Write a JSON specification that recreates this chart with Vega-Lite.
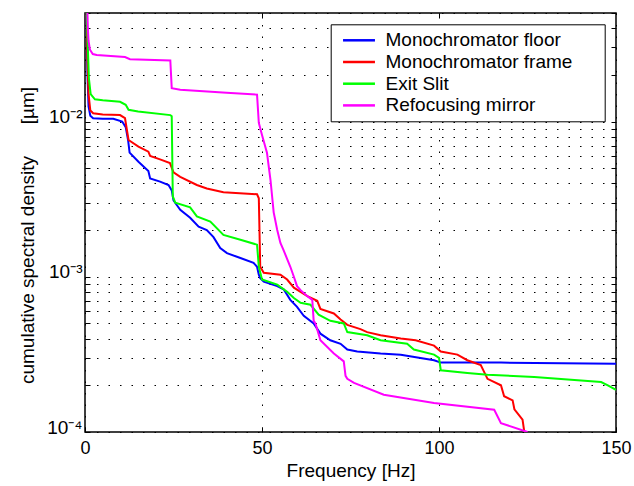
{
 "$schema": "https://vega.github.io/schema/vega-lite/v6.json",
 "width": 531, "height": 419,
 "autosize": {"type": "none"},
 "padding": {"left": 85, "top": 13, "right": 18, "bottom": 54},
 "background": "white",
 "config": {
  "font": "Liberation Sans",
  "view": {"stroke": "black", "strokeWidth": 1.5},
  "axis": {"domain": false, "grid": true, "gridColor": "black", "gridDash": [1.5, 10], "gridWidth": 1, "gridOpacity": 1,
   "tickColor": "black", "tickSize": -5, "tickWidth": 1, "labelColor": "black", "titleColor": "black",
   "labelFlush": false, "labelOverlap": false, "titleFontWeight": "normal", "titleFontSize": 19}
 },
 "data": {"values": [
  {"s":"Monochromator floor","f":0.4,"v":0.06},{"s":"Monochromator floor","f":0.7,"v":0.02},{"s":"Monochromator floor","f":1.0,"v":0.0125},{"s":"Monochromator floor","f":1.5,"v":0.0109},{"s":"Monochromator floor","f":2.3,"v":0.0105},{"s":"Monochromator floor","f":5,"v":0.0104},{"s":"Monochromator floor","f":8,"v":0.0104},{"s":"Monochromator floor","f":10.5,"v":0.0100},{"s":"Monochromator floor","f":11.5,"v":0.0092},{"s":"Monochromator floor","f":12.2,"v":0.0075},{"s":"Monochromator floor","f":12.6,"v":0.0063},{"s":"Monochromator floor","f":15.1,"v":0.0055},{"s":"Monochromator floor","f":17.9,"v":0.0048},{"s":"Monochromator floor","f":18.4,"v":0.0043},{"s":"Monochromator floor","f":21.2,"v":0.0041},{"s":"Monochromator floor","f":23.6,"v":0.0039},{"s":"Monochromator floor","f":24.5,"v":0.0036},{"s":"Monochromator floor","f":25.0,"v":0.0031},{"s":"Monochromator floor","f":26.9,"v":0.0027},{"s":"Monochromator floor","f":29.7,"v":0.0024},{"s":"Monochromator floor","f":32.1,"v":0.0021},{"s":"Monochromator floor","f":34.4,"v":0.0020},{"s":"Monochromator floor","f":36.3,"v":0.0018},{"s":"Monochromator floor","f":38.2,"v":0.00153},{"s":"Monochromator floor","f":40.1,"v":0.00142},{"s":"Monochromator floor","f":43.9,"v":0.00132},{"s":"Monochromator floor","f":47.6,"v":0.00123},{"s":"Monochromator floor","f":48.6,"v":0.00116},{"s":"Monochromator floor","f":49.1,"v":0.00103},{"s":"Monochromator floor","f":49.5,"v":0.00098},{"s":"Monochromator floor","f":50.5,"v":0.00093},{"s":"Monochromator floor","f":54.3,"v":0.00087},{"s":"Monochromator floor","f":56.1,"v":0.00083},{"s":"Monochromator floor","f":58,"v":0.00071},{"s":"Monochromator floor","f":59.9,"v":0.00064},{"s":"Monochromator floor","f":61.8,"v":0.00056},{"s":"Monochromator floor","f":64.6,"v":0.00050},{"s":"Monochromator floor","f":66.5,"v":0.00043},{"s":"Monochromator floor","f":69.3,"v":0.00039},{"s":"Monochromator floor","f":72.2,"v":0.00037},{"s":"Monochromator floor","f":74.1,"v":0.00034},{"s":"Monochromator floor","f":76.9,"v":0.00033},{"s":"Monochromator floor","f":83.5,"v":0.00032},{"s":"Monochromator floor","f":89.2,"v":0.000315},{"s":"Monochromator floor","f":98.6,"v":0.00029},{"s":"Monochromator floor","f":100.5,"v":0.00028},{"s":"Monochromator floor","f":117.5,"v":0.00028},{"s":"Monochromator floor","f":150,"v":0.000275},

  {"s":"Monochromator frame","f":0.4,"v":0.06},{"s":"Monochromator frame","f":0.7,"v":0.025},{"s":"Monochromator frame","f":1.0,"v":0.015},{"s":"Monochromator frame","f":1.5,"v":0.0118},{"s":"Monochromator frame","f":2.3,"v":0.0113},{"s":"Monochromator frame","f":5,"v":0.0111},{"s":"Monochromator frame","f":9.9,"v":0.0110},{"s":"Monochromator frame","f":11.3,"v":0.0105},{"s":"Monochromator frame","f":12.3,"v":0.0076},{"s":"Monochromator frame","f":15.1,"v":0.0069},{"s":"Monochromator frame","f":17.9,"v":0.0064},{"s":"Monochromator frame","f":18.4,"v":0.0060},{"s":"Monochromator frame","f":21.2,"v":0.0057},{"s":"Monochromator frame","f":24,"v":0.0054},{"s":"Monochromator frame","f":25,"v":0.0047},{"s":"Monochromator frame","f":26.9,"v":0.0044},{"s":"Monochromator frame","f":31.6,"v":0.0039},{"s":"Monochromator frame","f":34.4,"v":0.0037},{"s":"Monochromator frame","f":39.1,"v":0.0035},{"s":"Monochromator frame","f":48.6,"v":0.0034},{"s":"Monochromator frame","f":49.1,"v":0.0032},{"s":"Monochromator frame","f":49.5,"v":0.00116},{"s":"Monochromator frame","f":50.5,"v":0.00106},{"s":"Monochromator frame","f":55.2,"v":0.00103},{"s":"Monochromator frame","f":57.1,"v":0.00096},{"s":"Monochromator frame","f":59,"v":0.00085},{"s":"Monochromator frame","f":62.8,"v":0.00075},{"s":"Monochromator frame","f":65.6,"v":0.0007},{"s":"Monochromator frame","f":66.5,"v":0.00062},{"s":"Monochromator frame","f":70.3,"v":0.00058},{"s":"Monochromator frame","f":72.2,"v":0.00053},{"s":"Monochromator frame","f":74.1,"v":0.00049},{"s":"Monochromator frame","f":77.8,"v":0.00046},{"s":"Monochromator frame","f":79.7,"v":0.00044},{"s":"Monochromator frame","f":83.5,"v":0.00042},{"s":"Monochromator frame","f":89.2,"v":0.0004},{"s":"Monochromator frame","f":93.4,"v":0.00039},{"s":"Monochromator frame","f":98.6,"v":0.00036},{"s":"Monochromator frame","f":100.5,"v":0.00033},{"s":"Monochromator frame","f":105.2,"v":0.000315},{"s":"Monochromator frame","f":108,"v":0.00029},{"s":"Monochromator frame","f":111.8,"v":0.00027},{"s":"Monochromator frame","f":113.7,"v":0.00022},{"s":"Monochromator frame","f":117.5,"v":0.0002},{"s":"Monochromator frame","f":118.4,"v":0.00017},{"s":"Monochromator frame","f":120.8,"v":0.00016},{"s":"Monochromator frame","f":121.3,"v":0.00014},{"s":"Monochromator frame","f":123.6,"v":0.00012},{"s":"Monochromator frame","f":124.1,"v":0.0001},

  {"s":"Exit Slit","f":0.4,"v":0.06},{"s":"Exit Slit","f":0.8,"v":0.03},{"s":"Exit Slit","f":1.1,"v":0.019},{"s":"Exit Slit","f":1.6,"v":0.015},{"s":"Exit Slit","f":2.8,"v":0.0139},{"s":"Exit Slit","f":5,"v":0.0137},{"s":"Exit Slit","f":9.9,"v":0.0134},{"s":"Exit Slit","f":11.5,"v":0.0128},{"s":"Exit Slit","f":12.3,"v":0.0119},{"s":"Exit Slit","f":15,"v":0.0116},{"s":"Exit Slit","f":24.1,"v":0.0110},{"s":"Exit Slit","f":24.5,"v":0.0108},{"s":"Exit Slit","f":24.8,"v":0.0033},{"s":"Exit Slit","f":25.5,"v":0.0030},{"s":"Exit Slit","f":29.7,"v":0.0028},{"s":"Exit Slit","f":31.6,"v":0.00245},{"s":"Exit Slit","f":35.4,"v":0.00227},{"s":"Exit Slit","f":39.1,"v":0.00186},{"s":"Exit Slit","f":43.9,"v":0.00173},{"s":"Exit Slit","f":48.6,"v":0.00161},{"s":"Exit Slit","f":49.1,"v":0.00116},{"s":"Exit Slit","f":50,"v":0.00096},{"s":"Exit Slit","f":54.3,"v":0.00089},{"s":"Exit Slit","f":57.1,"v":0.0008},{"s":"Exit Slit","f":59,"v":0.00073},{"s":"Exit Slit","f":60.9,"v":0.00068},{"s":"Exit Slit","f":63.7,"v":0.00066},{"s":"Exit Slit","f":66,"v":0.00057},{"s":"Exit Slit","f":69.3,"v":0.00052},{"s":"Exit Slit","f":73.1,"v":0.0005},{"s":"Exit Slit","f":74.1,"v":0.00044},{"s":"Exit Slit","f":79.7,"v":0.00042},{"s":"Exit Slit","f":83.5,"v":0.00039},{"s":"Exit Slit","f":91,"v":0.00037},{"s":"Exit Slit","f":92.9,"v":0.00034},{"s":"Exit Slit","f":98.6,"v":0.000315},{"s":"Exit Slit","f":100,"v":0.0003},{"s":"Exit Slit","f":100.5,"v":0.00025},{"s":"Exit Slit","f":108,"v":0.00024},{"s":"Exit Slit","f":113.7,"v":0.000234},{"s":"Exit Slit","f":126.9,"v":0.000226},{"s":"Exit Slit","f":145.8,"v":0.00021},{"s":"Exit Slit","f":147.7,"v":0.0002},{"s":"Exit Slit","f":150,"v":0.000187},

  {"s":"Refocusing mirror","f":0.6,"v":0.06},{"s":"Refocusing mirror","f":0.8,"v":0.04},{"s":"Refocusing mirror","f":1.0,"v":0.033},{"s":"Refocusing mirror","f":1.4,"v":0.029},{"s":"Refocusing mirror","f":2.2,"v":0.0272},{"s":"Refocusing mirror","f":3.3,"v":0.0268},{"s":"Refocusing mirror","f":11.3,"v":0.0260},{"s":"Refocusing mirror","f":12.7,"v":0.0252},{"s":"Refocusing mirror","f":24.1,"v":0.0247},{"s":"Refocusing mirror","f":24.5,"v":0.0164},{"s":"Refocusing mirror","f":26.9,"v":0.0160},{"s":"Refocusing mirror","f":40,"v":0.0153},{"s":"Refocusing mirror","f":48.6,"v":0.0149},{"s":"Refocusing mirror","f":49.1,"v":0.0098},{"s":"Refocusing mirror","f":50,"v":0.0082},{"s":"Refocusing mirror","f":51.4,"v":0.0063},{"s":"Refocusing mirror","f":52.4,"v":0.0042},{"s":"Refocusing mirror","f":53.3,"v":0.0026},{"s":"Refocusing mirror","f":54.3,"v":0.0020},{"s":"Refocusing mirror","f":55.2,"v":0.00165},{"s":"Refocusing mirror","f":56,"v":0.0015},{"s":"Refocusing mirror","f":58,"v":0.00116},{"s":"Refocusing mirror","f":59,"v":0.0010},{"s":"Refocusing mirror","f":59.9,"v":0.00087},{"s":"Refocusing mirror","f":60.9,"v":0.00082},{"s":"Refocusing mirror","f":62.8,"v":0.00075},{"s":"Refocusing mirror","f":64.2,"v":0.00071},{"s":"Refocusing mirror","f":64.6,"v":0.00052},{"s":"Refocusing mirror","f":65.1,"v":0.0005},{"s":"Refocusing mirror","f":66.5,"v":0.00039},{"s":"Refocusing mirror","f":70.3,"v":0.00032},{"s":"Refocusing mirror","f":73.1,"v":0.000285},{"s":"Refocusing mirror","f":73.6,"v":0.00023},{"s":"Refocusing mirror","f":74.1,"v":0.00022},{"s":"Refocusing mirror","f":76,"v":0.000207},{"s":"Refocusing mirror","f":84.4,"v":0.000174},{"s":"Refocusing mirror","f":98.6,"v":0.000154},{"s":"Refocusing mirror","f":115.6,"v":0.000139},{"s":"Refocusing mirror","f":117.5,"v":0.000114},{"s":"Refocusing mirror","f":125,"v":0.0001}
 ]},
 "layer": [
  {
   "mark": {"type": "line", "strokeWidth": 2, "clip": true},
   "encoding": {
    "x": {"field": "f", "type": "quantitative", "scale": {"domain": [0, 150], "nice": false, "zero": false},
     "axis": {"orient": "bottom", "values": [0, 50, 100, 150], "title": "Frequency [Hz]", "labelFontSize": 18, "labelPadding": 12}},
    "y": {"field": "v", "type": "quantitative", "scale": {"type": "log", "domain": [0.0001, 0.05], "nice": false},
     "axis": {"orient": "left", "values": [0.0001,0.0002,0.0003,0.0004,0.0005,0.0006,0.0007,0.0008,0.0009,0.001,0.002,0.003,0.004,0.005,0.006,0.007,0.008,0.009,0.01,0.02,0.03,0.04,0.05],
      "labelExpr": "datum.value == 0.0001 ? '10⁻⁴' : datum.value == 0.001 ? '10⁻³' : datum.value == 0.01 ? '10⁻²' : ''",
      "title": "cumulative spectral density\u00a0\u00a0\u00a0\u00a0\u00a0\u00a0[µm]", "labelFontSize": 19, "labelPadding": 8, "labelBaseline": "alphabetic", "labelOffset": 1,
      "titleX": -52, "titleY": 222, "titleBaseline": "alphabetic", "titleAngle": -90, "titleAlign": "center"}},
    "color": {"field": "s", "type": "nominal",
     "scale": {"domain": ["Monochromator floor", "Monochromator frame", "Exit Slit", "Refocusing mirror"], "range": ["#0000ff", "#ff0000", "#00ff00", "#ff00ff"]},
     "legend": {"title": null, "orient": "none", "legendX": 245.7, "legendY": 11.3,
      "symbolType": "M-1.68,0H1.68", "symbolSize": 361, "symbolStrokeWidth": 2.5, "symbolOffset": 12.3,
      "labelFontSize": 19, "labelColor": "black", "labelOffset": 15.5, "labelLimit": 0,
      "padding": 5, "rowPadding": 0.7, "strokeColor": "black", "fillColor": "white",
      "labelExpr": "datum.label + '\u00a0\u00a0\u00a0\u00a0\u00a0\u200b'"}}
   }
  },
  {
   "mark": {"type": "line", "opacity": 0, "clip": true},
   "encoding": {
    "detail": {"field": "s"},
    "x": {"field": "f", "type": "quantitative",
     "axis": {"orient": "top", "values": [50, 100], "labels": false, "title": null, "grid": false}},
    "y": {"field": "v", "type": "quantitative",
     "axis": {"orient": "right", "values": [0.0001,0.0002,0.0003,0.0004,0.0005,0.0006,0.0007,0.0008,0.0009,0.001,0.002,0.003,0.004,0.005,0.006,0.007,0.008,0.009,0.01,0.02,0.03,0.04,0.05], "labels": false, "title": null, "grid": false}}
   }
  }
 ],
 "resolve": {"axis": {"x": "independent", "y": "independent"}}
}
